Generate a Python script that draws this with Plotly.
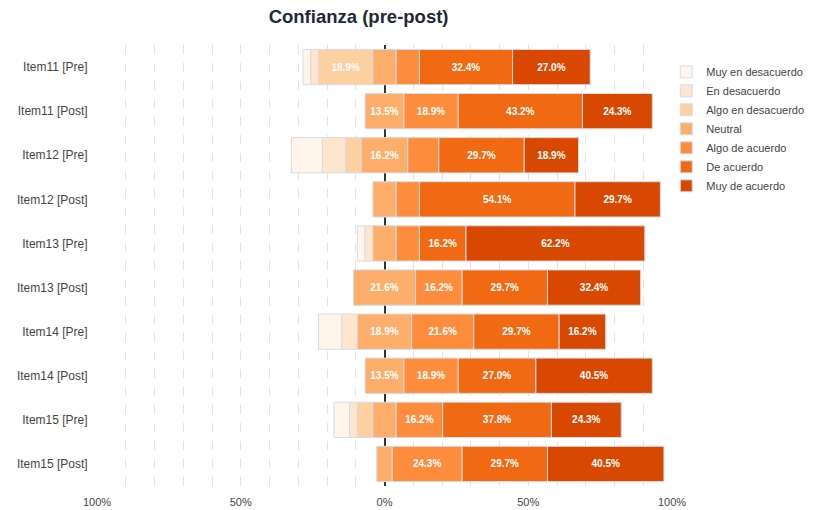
import numpy as np
import plotly.graph_objects as go

# Survey items (pre / post), top to bottom
items = [
    "Item11 [Pre]", "Item11 [Post]",
    "Item12 [Pre]", "Item12 [Post]",
    "Item13 [Pre]", "Item13 [Post]",
    "Item14 [Pre]", "Item14 [Post]",
    "Item15 [Pre]", "Item15 [Post]",
]

# Response shares (%) per Likert level
muy_en_desacuerdo = [2.7, 0, 10.8, 0, 2.7, 0, 8.1, 0, 5.4, 0]
en_desacuerdo = [2.7, 0, 8.1, 0, 2.7, 0, 5.4, 0, 2.7, 0]
algo_en_desacuerdo = [18.9, 0, 5.4, 0, 0, 0, 0, 0, 5.4, 0]
neutral = [8.1, 13.5, 16.2, 8.1, 8.1, 21.6, 18.9, 13.5, 8.1, 5.4]
algo_de_acuerdo = [8.1, 18.9, 10.8, 8.1, 8.1, 16.2, 21.6, 18.9, 16.2, 24.3]
de_acuerdo = [32.4, 43.2, 29.7, 54.1, 16.2, 29.7, 29.7, 27.0, 37.8, 29.7]
muy_de_acuerdo = [27.0, 24.3, 18.9, 29.7, 62.2, 32.4, 16.2, 40.5, 24.3, 40.5]

levels = [
    "Muy en desacuerdo", "En desacuerdo", "Algo en desacuerdo", "Neutral",
    "Algo de acuerdo", "De acuerdo", "Muy de acuerdo",
]
colors = ["#fff5eb", "#fee6ce", "#fdd0a2", "#fdae6b", "#fd8d3c", "#f16913", "#d94801"]

# Axis tick positions and labels
tick_vals = [-100, -50, 0, 50, 100]
tick_text = ["100%", "50%", "0%", "50%", "100%"]

series = np.array([
    muy_en_desacuerdo, en_desacuerdo, algo_en_desacuerdo, neutral,
    algo_de_acuerdo, de_acuerdo, muy_de_acuerdo,
], dtype=float)

# Diverging layout: the neutral block is centred on zero
left_start = -(series[0] + series[1] + series[2] + series[3] / 2)
bases = left_start + np.vstack([np.zeros(len(items)), np.cumsum(series, axis=0)[:-1]])

font_family = "Arial, Liberation Sans, sans-serif"
grid_color = "#dfe4ec"

fig = go.Figure()
for k, name in enumerate(levels):
    vals = [v if v > 0 else None for v in series[k]]
    labels = [f"{v:.1f}%" if v > 12 else "" for v in series[k]]
    fig.add_trace(go.Bar(
        y=items,
        x=vals,
        base=bases[k],
        name=name,
        orientation="h",
        marker=dict(color=colors[k], line=dict(color="#d5dce7", width=1)),
        text=labels,
        textposition="inside",
        insidetextanchor="middle",
        textangle=0,
        textfont=dict(color="white", size=10, family=font_family, weight="bold"),
        hovertemplate="%{y}<br>" + name + ": %{x:.1f}%<extra></extra>",
    ))

fig.update_layout(
    width=815,
    height=510,
    barmode="overlay",
    bargap=0.2,
    plot_bgcolor="white",
    paper_bgcolor="white",
    margin=dict(l=97, r=143, t=45, b=24, autoexpand=False),
    font=dict(family=font_family, size=11, color="#444"),
    title=dict(
        text="<b>Confianza (pre-post)</b>",
        x=0.44, xref="container", xanchor="center",
        y=0.967, yref="container", yanchor="middle",
        font=dict(size=18.5, color="#1f2837", family=font_family),
    ),
    legend=dict(
        x=0.99, xanchor="left", y=0.972, yanchor="top",
        traceorder="normal",
        font=dict(size=11, color="#444"),
        bgcolor="rgba(255,255,255,0)",
    ),
    uniformtext=dict(minsize=10, mode="show"),
    xaxis=dict(
        range=[-100, 100],
        tickvals=tick_vals,
        ticktext=tick_text,
        showgrid=True,
        gridcolor=grid_color,
        griddash="dash",
        gridwidth=1,
        minor=dict(dtick=10, tick0=0, showgrid=True, gridcolor=grid_color, griddash="dash"),
        zeroline=True,
        zerolinecolor="#333",
        zerolinewidth=2,
        showline=False,
        ticks="outside",
        ticklen=6,
        tickcolor="rgba(0,0,0,0)",
        tickfont=dict(size=11, color="#444"),
    ),
    yaxis=dict(
        categoryorder="array",
        categoryarray=items,
        autorange="reversed",
        showgrid=False,
        zeroline=False,
        ticks="outside",
        ticklen=6,
        tickcolor="rgba(0,0,0,0)",
        tickfont=dict(size=12, color="#444"),
    ),
)

fig.write_html("out.html")
